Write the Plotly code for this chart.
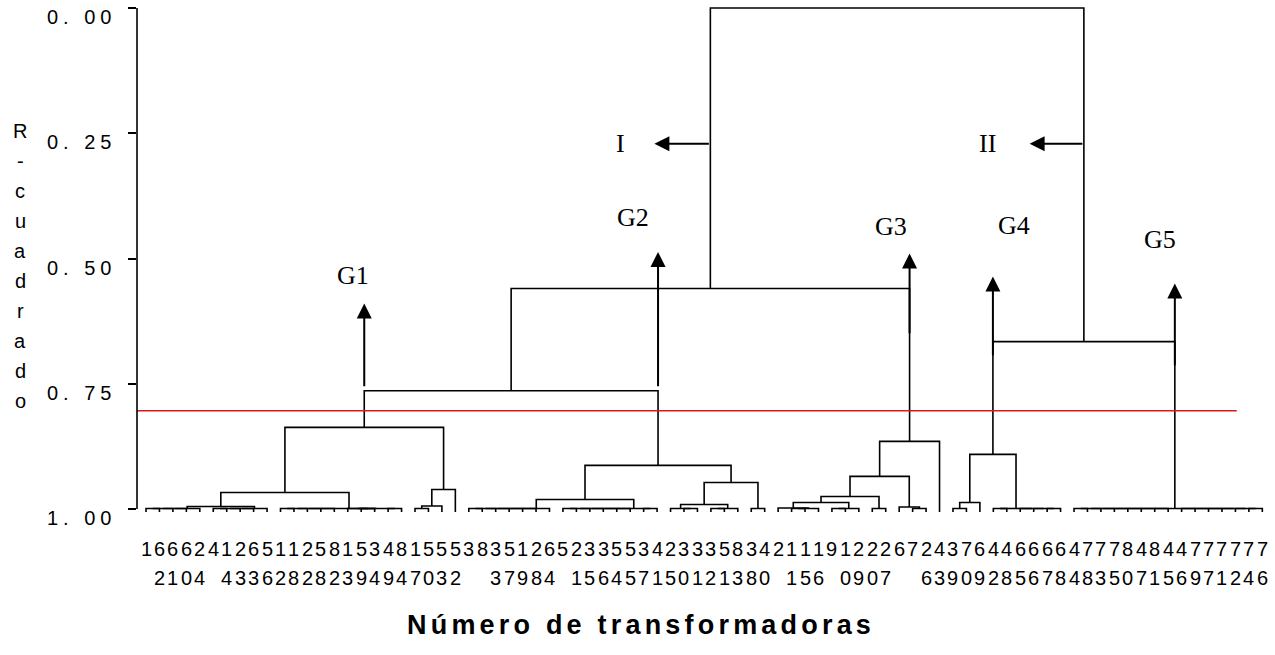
import plotly.graph_objects as go

# Transformer numbers in dendrogram leaf order (left to right)
leaf_labels = ["1", "62", "61", "60", "24", "4", "14", "23", "63", "56",
               "12", "18", "22", "58", "82", "13", "59", "34", "49", "84",
               "17", "50", "53", "52", "3", "8", "33", "57", "19", "28",
               "64", "5", "21", "35", "36", "54", "55", "37", "41", "25",
               "30", "31", "32", "51", "83", "38", "40", "2", "11", "15",
               "16", "9", "10", "29", "20", "27", "6", "7", "26", "43",
               "39", "70", "69", "42", "48", "65", "66", "67", "68", "44",
               "78", "73", "75", "80", "47", "81", "45", "46", "79", "77",
               "71", "72", "74", "76"]

# Cluster tree: [R-cuadrado at the join, left branch, right branch];
# plain integers are leaf positions in leaf_labels.
A1 = [0.995, [0.999, [0.999, [0.999, [0.999, 0, 1], 2], 3], 4],
             [0.999, [0.999, [0.999, [0.999, 5, 6], 7], 8], 9]]
A2 = [0.999, [0.999, [0.999, [0.999, [0.999, 10, 11], 12], 13], 14],
             [0.999, [0.999, 15, [0.999, 16, 17]], [0.999, 18, 19]]]
A3 = [0.961, [0.994, [0.999, 20, 21], 22], 23]
G1 = [0.837, [0.967, A1, A2], A3]

B1 = [0.999, [0.999, [0.999, [0.999, [0.999, [0.999, 24, 25], 26], 27], 28], 29], 30]
B2 = [0.999, [0.999, [0.999, [0.999, [0.999, [0.999, 31, 32], 33], 34], 35], 36],
             [0.999, 37, 38]]
B3 = [0.991, [0.999, 39, [0.999, 40, 41]], [0.999, [0.999, 42, 43], 44]]
B4 = [0.999, 45, 46]
G2 = [0.913, [0.981, B1, B2], [0.947, B3, B4]]

C1 = [0.998, 47, [0.999, [0.999, 48, 49], 50]]
C2 = [0.999, [0.999, 51, 52], 53]
C3 = [0.999, 54, 55]
C4 = [0.996, 56, [0.999, 57, 58]]
G3 = [0.865, [0.935, [0.975, [0.987, C1, C2], C3], C4], 59]

G4 = [0.891, [0.987, [0.999, 60, 61], 62],
             [0.999, [0.999, 63, 64], [0.999, 65, [0.999, 66, [0.999, 67, 68]]]]]
G5 = [0.999,
      [0.999, [0.999, [0.999, [0.999, [0.999, [0.999, [0.999, 69, 70], 71], 72], 73], 74], 75], 76],
      [0.999, 77, [0.999, 78, [0.999, 79, [0.999, 80, [0.999, 81, [0.999, 82, 83]]]]]]]

branch_I = [0.560, [0.764, G1, G2], G3]
branch_II = [0.666, G4, G5]
root = [0.0, branch_I, branch_II]

# Group call-outs: arrow tail / head (R-cuadrado), label position
group_names = ["G1", "G2", "G3", "G4", "G5"]
group_trees = [G1, G2, G3, G4, G5]
group_arrow_tail = [0.758, 0.758, 0.652, 0.696, 0.716]
group_arrow_head = [0.590, 0.487, 0.490, 0.536, 0.550]
group_label_x = [15.4, 36.2, 55.4, 64.5, 75.4]
group_label_r2 = [0.534, 0.419, 0.437, 0.435, 0.463]

# Main branches I and II
branch_names = ["I", "II"]
branch_trees = [branch_I, branch_II]
branch_arrow_r2 = [0.271, 0.271]
branch_arrow_head_x = [37.8, 65.7]
branch_label_x = [35.3, 62.6]

cut_r2 = 0.804
cut_x_end = 81.1

y_tick_vals = [0.0, 0.25, 0.50, 0.75, 1.00]
y_tick_text = ["0. 00", "0. 25", "0. 50", "0. 75", "1. 00"]
y_title = "R-cuadrado"
x_title = "Número de transformadoras"

# ---------------------------------------------------------------------------
LEAF_TICK = 0.006
X_MIN, X_MAX = -0.67, 83.72
Y_BOTTOM, Y_TOP = 1.012, -0.004
W, H = 1275, 655
M_L, M_R, M_T, M_B = 137, 3, 6, 140
PLOT_W = W - M_L - M_R
PLOT_H = H - M_T - M_B


def px_x(px):
    return (px - M_L) / PLOT_W


def px_y(py):
    return 1 - (py - M_T) / PLOT_H


seg_x, seg_y = [], []


def draw(node):
    """Append the U-shaped link of a merge; return its x and height."""
    if isinstance(node, int):
        return float(node), 1.0 + LEAF_TICK
    h, left, right = node
    xl, hl = draw(left)
    xr, hr = draw(right)
    seg_x.extend([xl, xl, xr, xr, None])
    seg_y.extend([hl, h, h, hr, None])
    return (xl + xr) / 2, h


def node_x(node):
    if isinstance(node, int):
        return float(node)
    return (node_x(node[1]) + node_x(node[2])) / 2


draw(root)

fig = go.Figure()
fig.add_trace(go.Scatter(x=seg_x, y=seg_y, mode="lines",
                         line=dict(color="black", width=1.6),
                         hoverinfo="skip", showlegend=False))

SANS = "Liberation Sans, Arial, sans-serif"
SERIF = "Liberation Serif, Times New Roman, serif"

# cut line
fig.add_shape(type="line", xref="x", yref="y", x0=X_MIN, x1=cut_x_end,
              y0=cut_r2, y1=cut_r2, line=dict(color="rgb(215,25,25)", width=1.5))
# vertical axis line from 0 to 1
fig.add_shape(type="line", xref="paper", yref="y", x0=0, x1=0,
              y0=y_tick_vals[0], y1=y_tick_vals[-1],
              line=dict(color="black", width=1.6))

# y tick labels
for v, t in zip(y_tick_vals, y_tick_text):
    fig.add_annotation(xref="paper", yref="y", x=px_x(118), y=v, yshift=-9,
                       text=f'<span style="letter-spacing:5px">{t}</span>',
                       showarrow=False, xanchor="right", yanchor="middle",
                       font=dict(family=SANS, size=20, color="black"))

# leaf labels, digits stacked in two rows
for i, lab in enumerate(leaf_labels):
    fig.add_annotation(xref="x", yref="paper", x=i, y=px_y(549), text=lab[0],
                       showarrow=False, xanchor="center", yanchor="middle",
                       font=dict(family=SANS, size=20, color="black"))
    if len(lab) > 1:
        fig.add_annotation(xref="x", yref="paper", x=i, y=px_y(578), text=lab[1],
                           showarrow=False, xanchor="center", yanchor="middle",
                           font=dict(family=SANS, size=20, color="black"))

# vertical y title, one letter per line
for k, ch in enumerate(y_title):
    fig.add_annotation(xref="paper", yref="paper", x=px_x(20), y=px_y(131 + 30 * k),
                       text=ch, showarrow=False, xanchor="center", yanchor="middle",
                       font=dict(family=SANS, size=20, color="black"))

# x title
fig.add_annotation(xref="paper", yref="paper", x=px_x(641), y=px_y(625),
                   text=f'<b><span style="letter-spacing:4.2px">{x_title}</span></b>',
                   showarrow=False, xanchor="center", yanchor="middle",
                   font=dict(family=SANS, size=27, color="black"))

# group arrows and labels
for name, tree, tail, head, lx, ly in zip(group_names, group_trees, group_arrow_tail,
                                          group_arrow_head, group_label_x, group_label_r2):
    gx = node_x(tree)
    fig.add_annotation(xref="x", yref="y", axref="x", ayref="y",
                       x=gx, y=head, ax=gx, ay=tail, text="", showarrow=True,
                       arrowhead=2, arrowsize=1.5, arrowwidth=2, arrowcolor="black",
                       standoff=0, startstandoff=0)
    fig.add_annotation(xref="x", yref="y", x=lx, y=ly, text=name, showarrow=False,
                       xanchor="center", yanchor="middle",
                       font=dict(family=SERIF, size=26, color="black"))

for name, tree, ry, hx, lx in zip(branch_names, branch_trees, branch_arrow_r2,
                                  branch_arrow_head_x, branch_label_x):
    bx = node_x(tree)
    fig.add_annotation(xref="x", yref="y", axref="x", ayref="y",
                       x=hx, y=ry, ax=bx, ay=ry, text="", showarrow=True,
                       arrowhead=2, arrowsize=1.5, arrowwidth=2, arrowcolor="black",
                       standoff=0, startstandoff=0)
    fig.add_annotation(xref="x", yref="y", x=lx, y=ry, text=name, showarrow=False,
                       xanchor="center", yanchor="middle",
                       font=dict(family=SERIF, size=26, color="black"))

fig.update_xaxes(range=[X_MIN, X_MAX], showticklabels=False, showgrid=False,
                 zeroline=False, showline=False, ticks="")
fig.update_yaxes(range=[Y_BOTTOM, Y_TOP], tickvals=y_tick_vals, showticklabels=False,
                 ticks="outside", ticklen=8, tickwidth=1.6, tickcolor="black",
                 showgrid=False, zeroline=False, showline=False)
fig.update_layout(width=W, height=H, autosize=False,
                  margin=dict(l=M_L, r=M_R, t=M_T, b=M_B, pad=0),
                  paper_bgcolor="white", plot_bgcolor="white")

fig.write_html("out.html")
